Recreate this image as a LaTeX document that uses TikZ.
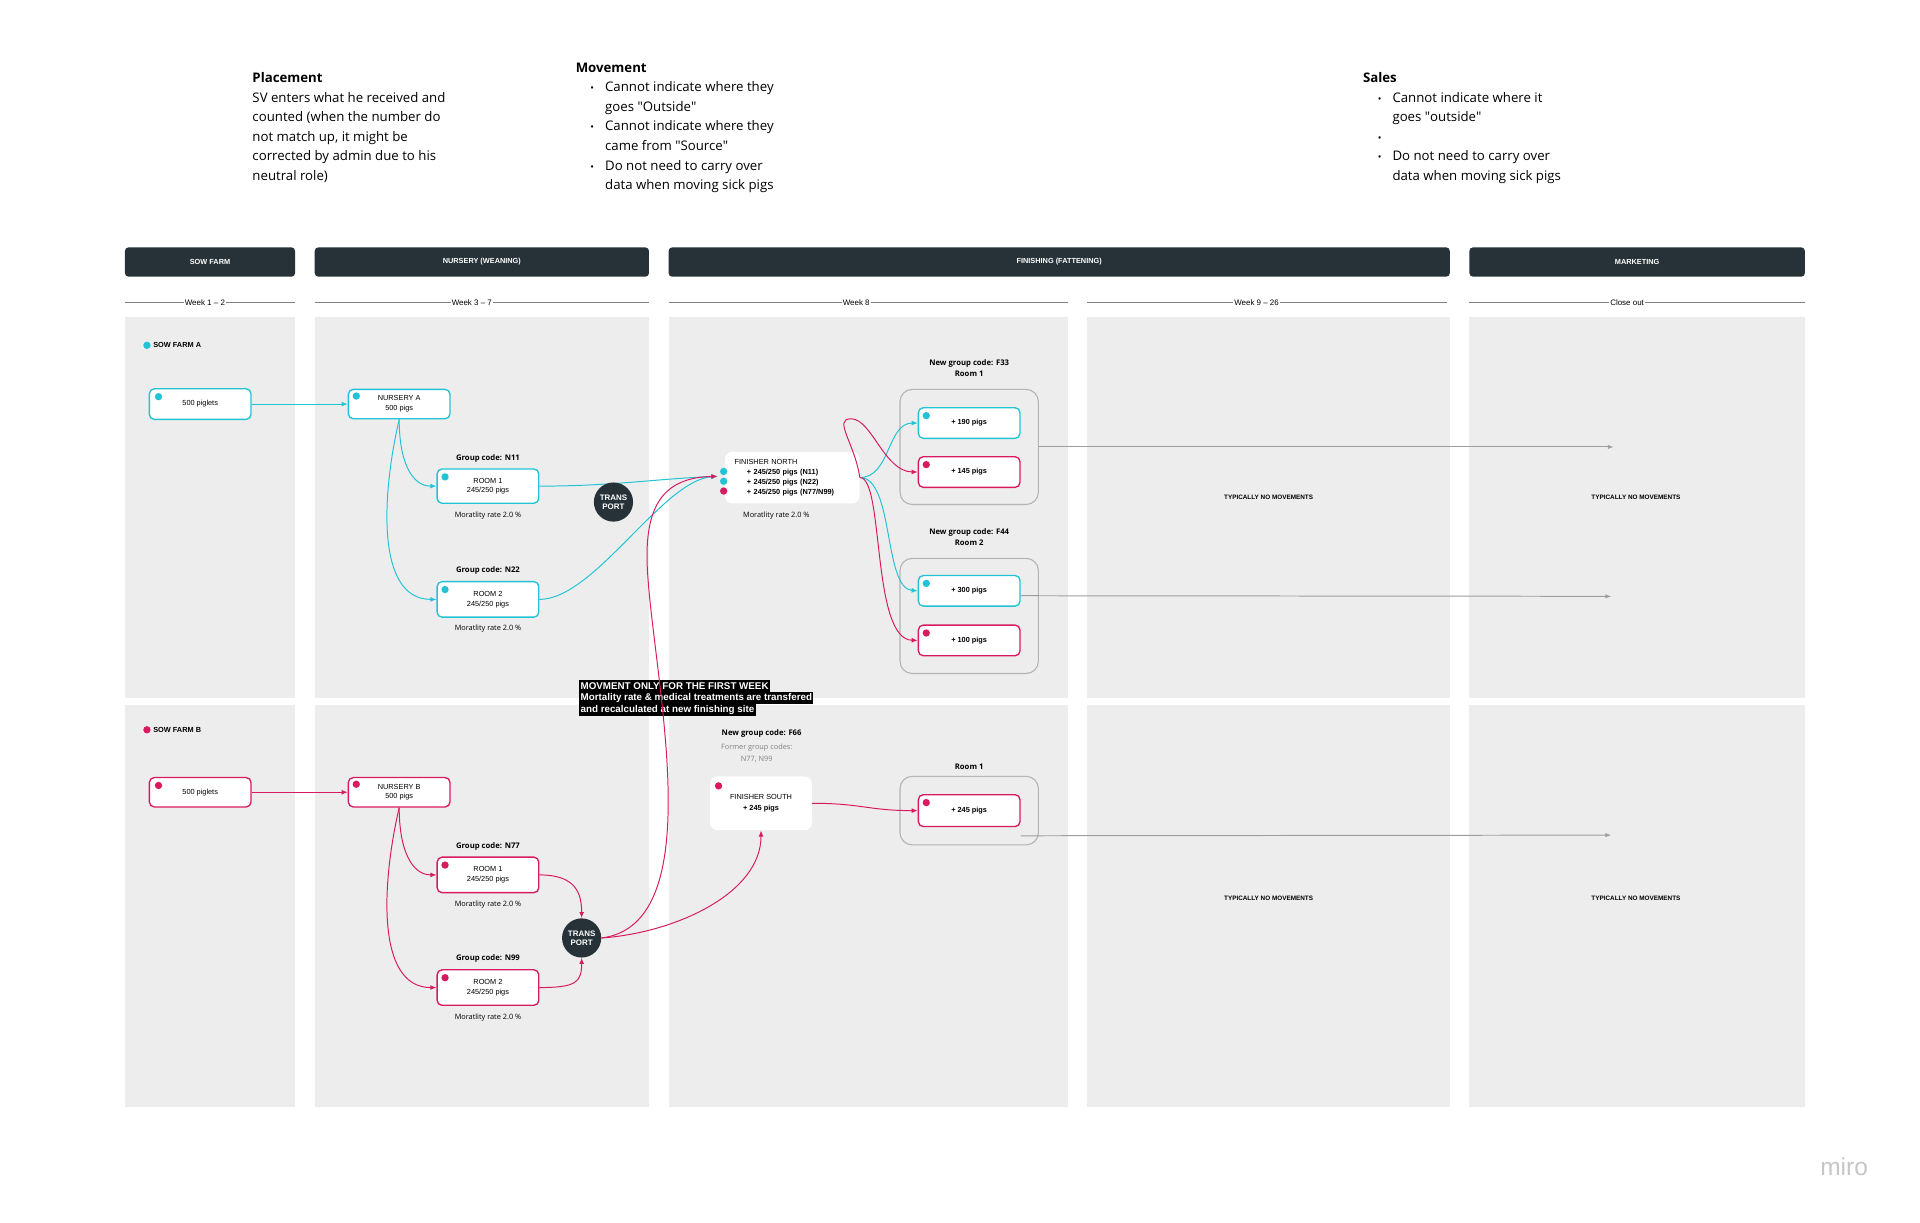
\documentclass[tikz,border=0pt]{standalone}
\usepackage{fontspec}
\setmainfont{Open Sans}
\newfontfamily\robo{Liberation Sans}
\usetikzlibrary{positioning}
\usetikzlibrary{arrows.meta}

\definecolor{pigcyan}{HTML}{22C3D4}
\definecolor{pigpink}{HTML}{D81B60}
\definecolor{headdark}{HTML}{263238}
\definecolor{lanegray}{HTML}{EDEDED}
\definecolor{framegray}{HTML}{B4B4B4}
\definecolor{outgray}{HTML}{9E9E9E}

\begin{document}
\begin{tikzpicture}[
        x = 1pt, y = -1pt,
        pigbox/.style = {
            draw=#1,
            fill=white,
            rounded corners=4pt,
            line width=1.1pt,
            minimum width=83pt,
            minimum height=25pt,
            inner sep=1pt,
            align=center,
            font=\robo\fontsize{6}{8}\selectfont
        },
        pigbox/.default = pigcyan,
        pigdot/.style = {circle, fill=#1, minimum size=6pt, inner sep=0pt, outer sep=0pt},
        pigdot/.default = pigcyan,
        pigflow/.style = {draw=#1, line width=0.8pt, -{Latex[length=5pt,width=4pt]}},
        pigflow/.default = pigcyan,
        outflow/.style = {draw=outgray, line width=0.8pt, -{Latex[length=5pt,width=3.5pt]}},
        lanehead/.style = {fill=headdark, text=white, rounded corners=3pt, minimum height=24pt, inner sep=0pt, font=\robo\bfseries\fontsize{6}{7}\selectfont},
        weekline/.style = {draw=gray, line width=0.6pt},
        weeklabel/.style = {fill=white, inner sep=1pt, pos=0.47, font=\robo\fontsize{6.5}{7}\selectfont},
        roomframe/.style = {draw=framegray, line width=0.9pt, rounded corners=10pt, minimum width=113pt, inner sep=0pt},
        sitebox/.style = {fill=white, rounded corners=6pt, inner sep=0pt, font=\robo\fontsize{6}{8}\selectfont},
        transport/.style = {circle, fill=headdark, text=white, minimum size=32pt, inner sep=0pt, align=center, font=\robo\bfseries\fontsize{6.5}{7.5}\selectfont},
        grouplabel/.style = {inner sep=0pt, align=center, font=\bfseries\fontsize{6.3}{9}\selectfont},
        mortlabel/.style = {inner sep=0pt, font=\fontsize{6}{7}\selectfont},
        farmlabel/.style = {inner sep=1pt, font=\robo\bfseries\fontsize{6}{7}\selectfont},
        quietlabel/.style = {inner sep=0pt, font=\robo\bfseries\fontsize{5.2}{6}\selectfont},
        warnline/.style = {fill=black, text=white, anchor=west, inner xsep=1pt, inner ysep=0pt, minimum height=10pt, font=\robo\bfseries\fontsize{8}{9}\selectfont},
        notetext/.style = {anchor=north west, inner sep=0pt, align=left, font=\fontsize{10.8}{16}\selectfont}
    ]
    \fill[white] (0,0) rectangle (1568,998);
    \useasboundingbox (0,0) rectangle (1568,998);

    % notes on top
    \node[notetext] (place) at (206,59) {\textbf{Placement}\\
        SV enters what he received and\\
        counted (when the number do\\
        not match up, it might be\\
        corrected by admin due to his\\
        neutral role)};
    \node[notetext] (move) at (470,51) {\textbf{Movement}\\
        \hspace*{12pt}\makebox[12pt][l]{\fontsize{8}{16}\selectfont •}Cannot indicate where they\\
        \hspace*{24pt}goes \textquotedbl Outside\textquotedbl\\
        \hspace*{12pt}\makebox[12pt][l]{\fontsize{8}{16}\selectfont •}Cannot indicate where they\\
        \hspace*{24pt}came from \textquotedbl Source\textquotedbl\\
        \hspace*{12pt}\makebox[12pt][l]{\fontsize{8}{16}\selectfont •}Do not need to carry over\\
        \hspace*{24pt}data when moving sick pigs};
    \node[notetext] (sales) at (1113,59) {\textbf{Sales}\\
        \hspace*{12pt}\makebox[12pt][l]{\fontsize{8}{16}\selectfont •}Cannot indicate where it\\
        \hspace*{24pt}goes \textquotedbl outside\textquotedbl\\
        \hspace*{12pt}\makebox[12pt][l]{\fontsize{8}{16}\selectfont •}\\
        \hspace*{12pt}\makebox[12pt][l]{\fontsize{8}{16}\selectfont •}Do not need to carry over\\
        \hspace*{24pt}data when moving sick pigs};

    % lanes
    \fill[lanegray] (102,259) rectangle (241,570);
    \fill[lanegray] (257,259) rectangle (530,570);
    \fill[lanegray] (546,259) rectangle (872,570);
    \fill[lanegray] (888,259) rectangle (1184,570);
    \fill[lanegray] (1200,259) rectangle (1474,570);
    \fill[lanegray] (102,576) rectangle (241,904);
    \fill[lanegray] (257,576) rectangle (530,904);
    \fill[lanegray] (546,576) rectangle (872,904);
    \fill[lanegray] (888,576) rectangle (1184,904);
    \fill[lanegray] (1200,576) rectangle (1474,904);

    \node[lanehead, minimum width=139pt] (hsow) at (171.5,214) {SOW FARM};
    \node[lanehead, minimum width=273pt] (hnur) at (393.5,214) {NURSERY (WEANING)};
    \node[lanehead, minimum width=638pt] (hfin) at (865,214) {FINISHING (FATTENING)};
    \node[lanehead, minimum width=274pt] (hmar) at (1337,214) {MARKETING};

    \draw[weekline] (102,247) -- node[weeklabel] (w1) {Week 1 – 2} (241,247);
    \draw[weekline] (257,247) -- node[weeklabel] (w2) {Week 3 – 7} (530,247);
    \draw[weekline] (546,247) -- node[weeklabel] (w3) {Week 8} (872,247);
    \draw[weekline] (888,247) -- node[weeklabel] (w4) {Week 9 – 26} (1182,247);
    \draw[weekline] (1200,247) -- node[weeklabel] (w5) {Close out} (1474,247);

    % sow farm A
    \node[pigdot] (farmAdot) at (120,282) {};
    \node[farmlabel, right=1pt of farmAdot] (farmA) {SOW FARM A};
    \node[pigbox] (pigA) at (163.5,330) {500 piglets};
    \node[pigbox, minimum height=24pt] (nurA) at (326,330) {NURSERY A\\500 pigs};
    \node[pigbox, minimum height=28pt] (roomA1) at (398.5,397) {ROOM 1\\245/250 pigs};
    \node[pigbox, minimum height=29pt] (roomA2) at (398.5,489.5) {ROOM 2\\245/250 pigs};
    \node[grouplabel, above=5pt of roomA1] (gN11) {Group code: N11};
    \node[mortlabel, below=6pt of roomA1] (mN11) {Moratlity rate 2.0 \%};
    \node[grouplabel, above=5pt of roomA2] (gN22) {Group code: N22};
    \node[mortlabel, below=6pt of roomA2] (mN22) {Moratlity rate 2.0 \%};

    \node[pigdot] (pigAdot) at ([xshift=8pt,yshift=-7pt]pigA.north west) {};
    \node[pigdot] (nurAdot) at ([xshift=7pt,yshift=-6pt]nurA.north west) {};
    \node[pigdot] (roomA1dot) at ([xshift=7pt,yshift=-7pt]roomA1.north west) {};
    \node[pigdot] (roomA2dot) at ([xshift=7pt,yshift=-7pt]roomA2.north west) {};

    % finisher north
    \node[sitebox, minimum height=42pt, text width=94pt, inner xsep=8pt, align=left] (finN) at (647,390) {FINISHER NORTH\\
        \hspace*{10pt}\textbf{+ 245/250 pigs (N11)}\\
        \hspace*{10pt}\textbf{+ 245/250 pigs (N22)}\\
        \hspace*{10pt}\textbf{+ 245/250 pigs (N77/N99)}};
    \node[mortlabel] (mFN) at (634,421) {Moratlity rate 2.0 \%};
    \node[pigdot] (fnA) at (591,385) {};
    \node[pigdot] (fnB) at (591,393) {};
    \node[pigdot=pigpink] (fnC) at (591,401) {};
    \coordinate (fnin) at (586,389);

    % new groups F33 and F44
    \node[roomframe, minimum height=94pt] (cF33) at (791.5,365) {};
    \node[grouplabel, above=10pt of cF33] (lF33) {New group code: F33\\Room 1};
    \node[pigbox] (p190) at (791.5,345.5) {\textbf{+ 190 pigs}};
    \node[pigbox=pigpink] (p145) at (791.5,385.5) {\textbf{+ 145 pigs}};
    \node[pigdot] (p190dot) at ([xshift=7pt,yshift=-7pt]p190.north west) {};
    \node[pigdot=pigpink] (p145dot) at ([xshift=7pt,yshift=-7pt]p145.north west) {};

    \node[roomframe, minimum height=94pt] (cF44) at (791.5,503) {};
    \node[grouplabel, above=10pt of cF44] (lF44) {New group code: F44\\Room 2};
    \node[pigbox] (p300) at (791.5,482.5) {\textbf{+ 300 pigs}};
    \node[pigbox=pigpink] (p100) at (791.5,523) {\textbf{+ 100 pigs}};
    \node[pigdot] (p300dot) at ([xshift=7pt,yshift=-7pt]p300.north west) {};
    \node[pigdot=pigpink] (p100dot) at ([xshift=7pt,yshift=-7pt]p100.north west) {};

    % sow farm B
    \node[pigdot=pigpink] (farmBdot) at (120,596) {};
    \node[farmlabel, right=1pt of farmBdot] (farmB) {SOW FARM B};
    \node[pigbox=pigpink, minimum height=24pt] (pigB) at (163.5,647) {500 piglets};
    \node[pigbox=pigpink, minimum height=24pt] (nurB) at (326,647) {NURSERY B\\500 pigs};
    \node[pigbox=pigpink, minimum height=29pt] (roomB1) at (398.5,714.5) {ROOM 1\\245/250 pigs};
    \node[pigbox=pigpink, minimum height=29pt] (roomB2) at (398.5,806.5) {ROOM 2\\245/250 pigs};
    \node[grouplabel, above=5pt of roomB1] (gN77) {Group code: N77};
    \node[mortlabel, below=6pt of roomB1] (mN77) {Moratlity rate 2.0 \%};
    \node[grouplabel, above=5pt of roomB2] (gN99) {Group code: N99};
    \node[mortlabel, below=6pt of roomB2] (mN99) {Moratlity rate 2.0 \%};
    \node[transport] (trB) at (475,766) {TRANS\\PORT};

    \node[pigdot=pigpink] (pigBdot) at ([xshift=8pt,yshift=-7pt]pigB.north west) {};
    \node[pigdot=pigpink] (nurBdot) at ([xshift=7pt,yshift=-6pt]nurB.north west) {};
    \node[pigdot=pigpink] (roomB1dot) at ([xshift=7pt,yshift=-7pt]roomB1.north west) {};
    \node[pigdot=pigpink] (roomB2dot) at ([xshift=7pt,yshift=-7pt]roomB2.north west) {};

    % finisher south
    \node[grouplabel] (lF66) at (622,599) {New group code: F66};
    \node[mortlabel, text=gray, align=center, font=\fontsize{6}{10}\selectfont] (lOld) at (618,615) {Former group codes:\\N77, N99};
    \node[sitebox, minimum width=83pt, minimum height=44pt, align=center, font=\robo\fontsize{6}{9}\selectfont] (finS) at (621.5,656) {FINISHER SOUTH\\\textbf{+ 245 pigs}};
    \node[pigdot=pigpink] (finSdot) at ([xshift=7pt,yshift=-8pt]finS.north west) {};

    \node[roomframe, minimum height=56pt] (cR1) at (791.5,662) {};
    \node[grouplabel, above=5pt of cR1] (lR1) {Room 1};
    \node[pigbox=pigpink, minimum height=26pt] (p245) at (791.5,662) {\textbf{+ 245 pigs}};
    \node[pigdot=pigpink] (p245dot) at ([xshift=7pt,yshift=-7pt]p245.north west) {};

    % marketing side
    \node[quietlabel] (quiet1) at (1036,406) {TYPICALLY NO MOVEMENTS};
    \node[quietlabel] (quiet2) at (1336,406) {TYPICALLY NO MOVEMENTS};
    \node[quietlabel] (quiet3) at (1036,734) {TYPICALLY NO MOVEMENTS};
    \node[quietlabel] (quiet4) at (1336,734) {TYPICALLY NO MOVEMENTS};

    \node[warnline] (warn1) at (473,560) {MOVMENT ONLY FOR THE FIRST WEEK};
    \node[warnline] (warn2) at (473,570) {Mortality rate \& medical treatments are transfered};
    \node[warnline] (warn3) at (473,580) {and recalculated at new finishing site};

    % movements
    \draw[pigflow] (pigA) -- (nurA);
    \draw[pigflow] (nurA.south) .. controls +(0,35) and +(-20,0) .. (roomA1.west);
    \draw[pigflow] (nurA.south) .. controls +(-14,60) and +(-50,0) .. (roomA2.west);
    \draw[pigflow] (roomA1.east) .. controls +(60,0) and +(-50,2) .. (fnin);
    \draw[pigflow] (roomA2.east) .. controls +(45,0) and +(-45,3) .. (fnin);

    \draw[pigflow=pigpink] (pigB) -- (nurB);
    \draw[pigflow=pigpink] (nurB.south) .. controls +(0,35) and +(-20,0) .. (roomB1.west);
    \draw[pigflow=pigpink] (nurB.south) .. controls +(-14,60) and +(-50,0) .. (roomB2.west);
    \draw[pigflow=pigpink] (roomB1.east) .. controls +(30,0) and +(0,-20) .. (trB.north);
    \draw[pigflow=pigpink] (roomB2.east) .. controls +(30,0) and +(0,20) .. (trB.south);
    \draw[pigflow=pigpink] (trB.east) .. controls (580,755) and (535,560) .. (529,470)
        .. controls (525,415) and (540,390) .. (fnin);
    \draw[pigflow=pigpink] (trB.east) .. controls +(59,-4) and +(0,52) .. (finS.south);
    \draw[pigflow=pigpink] (finS.east) .. controls +(40,0) and +(-40,0) .. (p245.west);

    \draw[pigflow] (finN.east) .. controls +(25,0) and +(-25,0) .. (p190.west);
    \draw[pigflow=pigpink] (finN.east) .. controls (698,362) and (680,342) .. (695,342)
        .. controls (712,342) and (722,385) .. (p145.west);
    \draw[pigflow] (finN.east) .. controls +(28,0) and +(-28,-2) .. (p300.west);
    \draw[pigflow=pigpink] (finN.east) .. controls +(20,0) and +(-38,-1) .. (p100.west);

    \coordinate (outA) at (1318,365);
    \coordinate (startB) at ([yshift=-4pt]p300.east);
    \coordinate (outB) at (1316,487);
    \coordinate (startC) at ([yshift=-7pt]p245.south east);
    \coordinate (outC) at (1316,682);
    \draw[outflow] (cF33.east) -- (outA);
    \draw[outflow] (startB) -- (outB);
    \draw[outflow] (startC) -- (outC);

    \node[transport] (trA) at (501,410) {TRANS\\PORT};

    \node[text=gray!45, inner sep=0pt, font=\robo\fontsize{20}{20}\selectfont] (miro) at (1506,953) {miro};
\end{tikzpicture}
\end{document}
